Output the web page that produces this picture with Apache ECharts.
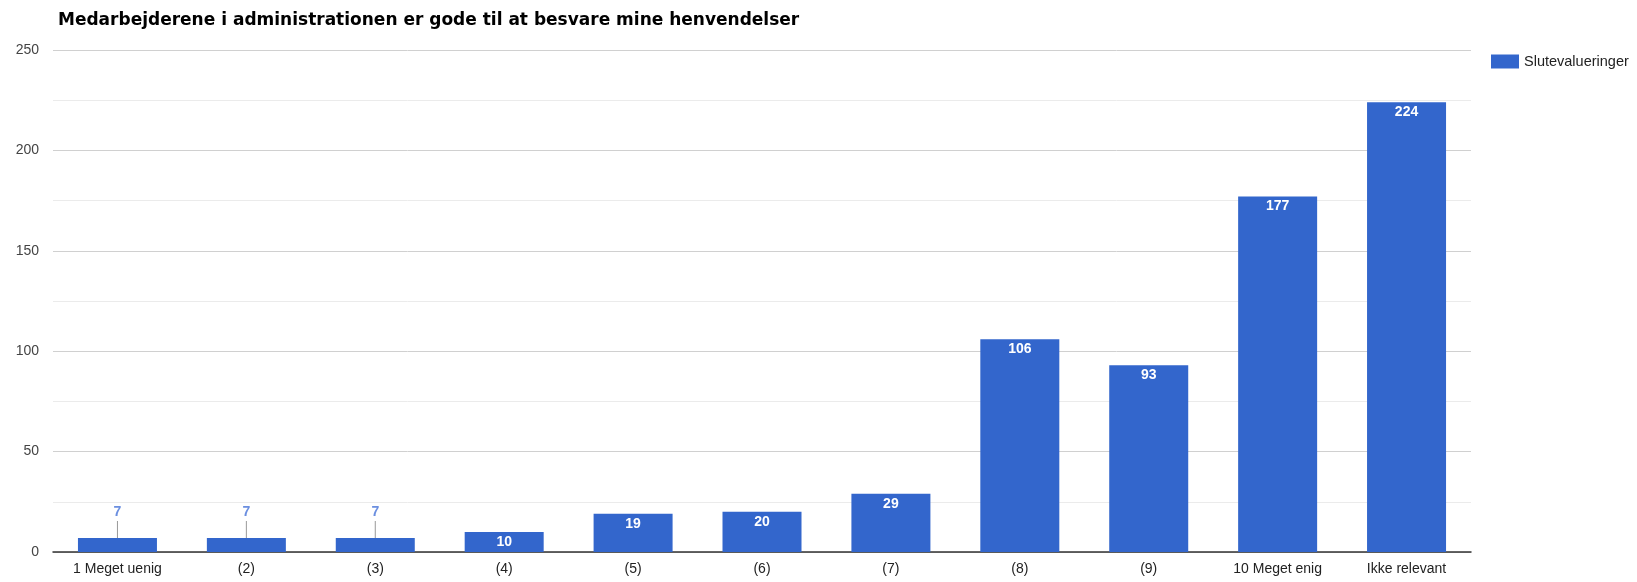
<!DOCTYPE html>
<html>
<head>
<meta charset="utf-8">
<script src="https://cdn.jsdelivr.net/npm/echarts@6/dist/echarts.min.js"></script>
<style>html,body{margin:0;padding:0;background:#fff}#c{width:1637px;height:582px}</style>
</head>
<body>
<div id="c"></div>
<script>
const categories = ['1 Meget uenig', '(2)', '(3)', '(4)', '(5)', '(6)', '(7)', '(8)', '(9)', '10 Meget enig', 'Ikke relevant'];
const values = [7, 7, 7, 10, 19, 20, 29, 106, 93, 177, 224];
const seriesName = 'Slutevalueringer';
const titleText = 'Medarbejderene i administrationen er gode til at besvare mine henvendelser';
const yTicks = [0, 50, 100, 150, 200, 250];

const SMALL = 8;
const chart = echarts.init(document.getElementById('c'));
chart.setOption({
  animation: false,
  title: {
    text: titleText, left: 53, top: 7,
    textStyle: { fontFamily: 'DejaVu Sans', fontWeight: 'bold', fontSize: 17, color: '#000' }
  },
  legend: {
    left: 1486, top: 49, itemWidth: 28, itemHeight: 14,
    textStyle: { fontFamily: 'Liberation Sans, Arial', fontSize: 14.5, color: '#222' },
    data: [{ name: seriesName, icon: 'rect' }]
  },
  grid: { left: 53, right: 166, top: 50, bottom: 30, containLabel: false },
  xAxis: {
    type: 'category', data: categories,
    axisTick: { show: false },
    axisLine: { lineStyle: { color: '#333', width: 1.5 } },
    axisLabel: { fontFamily: 'Liberation Sans, Arial', fontSize: 14, color: '#222', margin: 10 }
  },
  yAxis: {
    type: 'value', min: 0, max: yTicks[yTicks.length - 1], interval: 50,
    axisLine: { show: false }, axisTick: { show: false },
    axisLabel: { fontFamily: 'Liberation Sans, Arial', fontSize: 14, color: '#444', margin: 14 },
    splitLine: { lineStyle: { color: '#d0d0d0', width: 1 } },
    minorTick: { show: false, splitNumber: 2 },
    minorSplitLine: { show: true, lineStyle: { color: '#ebebeb', width: 1 } }
  },
  series: [{
    name: seriesName, type: 'bar', barWidth: 79,
    itemStyle: { color: '#3366cc' },
    data: values.map(v => v < SMALL ? {
      value: v,
      label: {
        position: 'top', distance: 0,
        formatter: '{v|{c}}\n{l|}',
        rich: {
          v: { color: '#6b8fe0', fontSize: 14, fontFamily: 'Liberation Sans, Arial', lineHeight: 18, padding: [0, 0, 0, 0] },
          l: { width: 1, height: 17, backgroundColor: '#999' }
        }
      }
    } : v),
    label: {
      show: true, position: 'insideTop', distance: 3,
      color: '#fff', fontWeight: 'bold', fontSize: 14, fontFamily: 'Liberation Sans, Arial'
    }
  }]
});
</script>
</body>
</html>
